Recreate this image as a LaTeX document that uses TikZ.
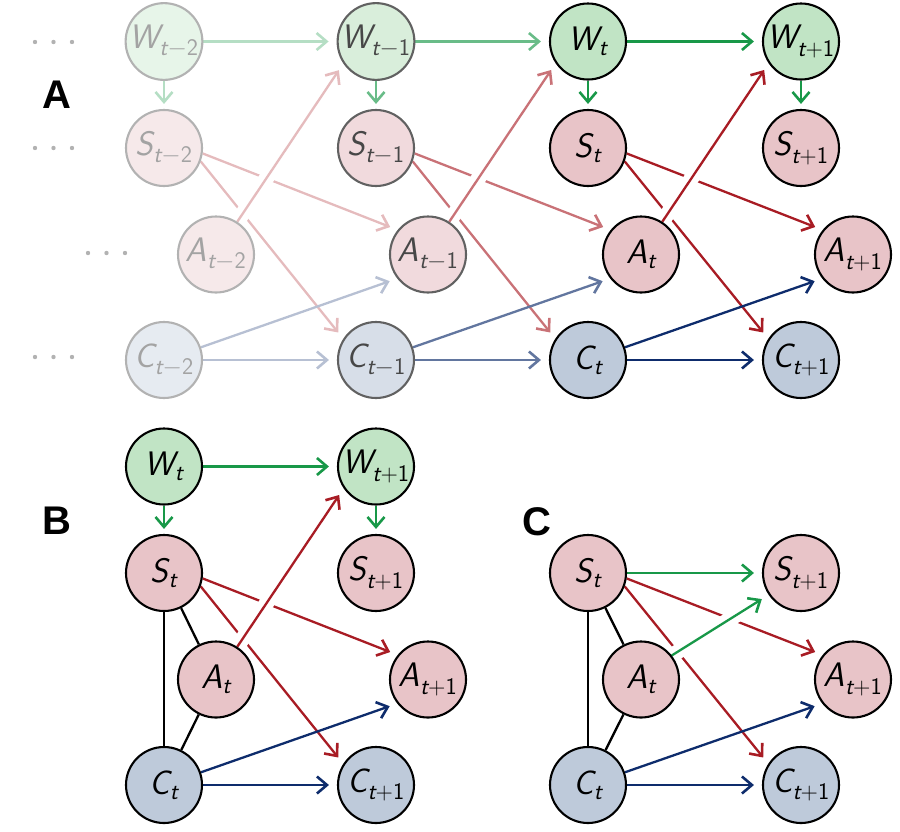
\documentclass[tikz,border=0pt]{standalone}
\usepackage{fontspec}
\newfontfamily\lblfont{Liberation Sans}
\usetikzlibrary{arrows.meta,backgrounds}
\definecolor{wfill}{RGB}{193,228,197}
\definecolor{sfill}{RGB}{232,196,200}
\definecolor{cfill}{RGB}{190,202,218}
\definecolor{wedge}{RGB}{24,152,72}
\definecolor{redge}{RGB}{168,28,36}
\definecolor{cedge}{RGB}{14,44,108}
\newcommand{\vx}[2]{{\sffamily\slshape #1}\textsubscript{\sffamily\slshape t\upshape #2}}
\tikzset{
  nd/.style={circle, draw=black, line width=2.1pt, minimum size=76pt, inner sep=0pt,
    font=\fontsize{34}{36}\selectfont},
  wn/.style={nd, fill=wfill}, sn/.style={nd, fill=sfill}, cn/.style={nd, fill=cfill},
  fa/.style={draw=black!62, text=black!72},
  fb/.style={draw=black!30, text=black!36},
  edge/.style={line width=2.3pt, -{Straight Barb[length=10pt,width=17pt,line width=2.6pt]}, shorten >=8pt},
  vert/.style={shorten >=5pt},
  g/.style={edge, draw=wedge}, ga/.style={edge, draw=wedge!65}, gb/.style={edge, draw=wedge!32},
  r/.style={edge, draw=redge}, ra/.style={edge, draw=redge!62}, rb/.style={edge, draw=redge!30},
  b/.style={edge, draw=cedge}, ba/.style={edge, draw=cedge!65}, bb/.style={edge, draw=cedge!30},
  und/.style={line width=2.3pt, draw=black},
  over/.style={preaction={draw=white, line width=15pt, -}},
  lbl/.style={font=\lblfont\bfseries\fontsize{40}{40}\selectfont, inner sep=0pt},
  dotc/.style={fill=black!30}
}
\begin{document}
\begin{tikzpicture}[x=1pt,y=-1pt]
\useasboundingbox (0,0) rectangle (900,831);
% ---------- Panel A ----------
\node[lbl] (labA) at (57,95) {A};
\node[wn, fb, fill=wfill!38] (w1) at (164,41.5) {\vx{W}{$-$2}};
\node[wn, fa, fill=wfill!62] (w2) at (376,41.5) {\vx{W}{$-$1}};
\node[wn] (w3) at (588,41.5) {\vx{W}{}};
\node[wn] (w4) at (801,41.5) {\vx{W}{+1}};
\node[sn, fb, fill=sfill!38] (s1) at (164,148) {\vx{S}{$-$2}};
\node[sn, fa, fill=sfill!62] (s2) at (376,148) {\vx{S}{$-$1}};
\node[sn] (s3) at (588,148) {\vx{S}{}};
\node[sn] (s4) at (801,148) {\vx{S}{+1}};
\node[sn, fb, fill=sfill!38] (a1) at (216,254.5) {\vx{A}{$-$2}};
\node[sn, fa, fill=sfill!62] (a2) at (428,254.5) {\vx{A}{$-$1}};
\node[sn] (a3) at (641,254.5) {\vx{A}{}};
\node[sn] (a4) at (853,254.5) {\vx{A}{+1}};
\node[cn, fb, fill=cfill!38] (c1) at (164,360) {\vx{C}{$-$2}};
\node[cn, fa, fill=cfill!62] (c2) at (376,360) {\vx{C}{$-$1}};
\node[cn] (c3) at (588,360) {\vx{C}{}};
\node[cn] (c4) at (801,360) {\vx{C}{+1}};
\foreach \yy/\xs in {42/35,148/35,253/88,357/35}{
  \fill[dotc] (\xs,\yy) circle (2.2pt) (\xs+18.5,\yy) circle (2.2pt) (\xs+37,\yy) circle (2.2pt);
}
% ---------- Panel B ----------
\node[lbl] (labB) at (57,521) {B};
\node[wn] (bw1) at (164,466.5) {\vx{W}{}};
\node[wn] (bw2) at (376,466.5) {\vx{W}{+1}};
\node[sn] (bs1) at (164,573) {\vx{S}{}};
\node[sn] (bs2) at (376,573) {\vx{S}{+1}};
\node[sn] (ba1) at (216,679.5) {\vx{A}{}};
\node[sn] (ba2) at (428,679.5) {\vx{A}{+1}};
\node[cn] (bc1) at (164,785) {\vx{C}{}};
\node[cn] (bc2) at (376,785) {\vx{C}{+1}};
% ---------- Panel C ----------
\node[lbl] (labC) at (536.5,521.5) {C};
\node[sn] (cs1) at (588,573) {\vx{S}{}};
\node[sn] (cs2) at (801,573) {\vx{S}{+1}};
\node[sn] (ca1) at (641,679.5) {\vx{A}{}};
\node[sn] (ca2) at (853,679.5) {\vx{A}{+1}};
\node[cn] (cc1) at (588,785) {\vx{C}{}};
\node[cn] (cc2) at (801,785) {\vx{C}{+1}};
\begin{pgfonlayer}{background}
% panel A, t-2 -> t-1
\draw[gb] (w1) -- (w2);
\draw[gb, vert] (w1) -- (s1);
\draw[rb] (s1.-8) -- (a2.141);
\draw[rb] (s1.-20) -- (c2.147);
\draw[bb] (c1.19) -- (a2.218);
\draw[bb] (c1) -- (c2);
\draw[rb, over] (a1.57) -- (w2.214);
% t-1 -> t
\draw[ga] (w2) -- (w3);
\draw[ga, vert] (w2) -- (s2);
\draw[ra] (s2.-8) -- (a3.141);
\draw[ra] (s2.-20) -- (c3.147);
\draw[ba] (c2.19) -- (a3.218);
\draw[ba] (c2) -- (c3);
\draw[ra, over] (a2.57) -- (w3.214);
% t -> t+1
\draw[g] (w3) -- (w4);
\draw[g, vert] (w3) -- (s3);
\draw[g, vert] (w4) -- (s4);
\draw[r] (s3.-8) -- (a4.141);
\draw[r] (s3.-20) -- (c4.147);
\draw[b] (c3.19) -- (a4.218);
\draw[b] (c3) -- (c4);
\draw[r, over] (a3.57) -- (w4.214);
% panel B
\draw[und] (bs1) -- (bc1);
\draw[und] (bs1) -- (ba1);
\draw[und] (ba1) -- (bc1);
\draw[g] (bw1) -- (bw2);
\draw[g, vert] (bw1) -- (bs1);
\draw[g, vert] (bw2) -- (bs2);
\draw[r] (bs1.-8) -- (ba2.141);
\draw[r] (bs1.-20) -- (bc2.147);
\draw[b] (bc1.19) -- (ba2.218);
\draw[b] (bc1) -- (bc2);
\draw[r, over] (ba1.57) -- (bw2.214);
% panel C
\draw[und] (cs1) -- (cc1);
\draw[und] (cs1) -- (ca1);
\draw[und] (ca1) -- (cc1);
\draw[g] (cs1) -- (cs2);
\draw[r] (cs1.-8) -- (ca2.141);
\draw[r] (cs1.-20) -- (cc2.147);
\draw[b] (cc1.19) -- (ca2.218);
\draw[b] (cc1) -- (cc2);
\draw[g, over] (ca1.38) -- (cs2.214);
\end{pgfonlayer}
\end{tikzpicture}
\end{document}
